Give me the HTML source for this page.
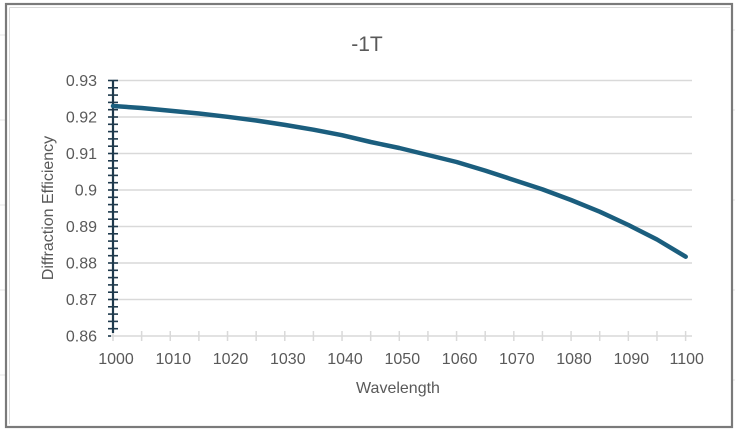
<!DOCTYPE html>
<html><head><meta charset="utf-8"><style>
html,body{margin:0;padding:0;background:#fff;}
svg{display:block;font-family:"Liberation Sans",sans-serif;}
</style></head><body>
<svg width="735" height="431" viewBox="0 0 735 431" xmlns="http://www.w3.org/2000/svg">
<rect width="735" height="431" fill="#fff"/>
<g stroke="#e4e4e4" stroke-width="1">
<line x1="0" y1="35" x2="5" y2="35"/><line x1="0" y1="120" x2="5" y2="120"/><line x1="0" y1="205" x2="5" y2="205"/><line x1="0" y1="290" x2="5" y2="290"/><line x1="0" y1="375" x2="5" y2="375"/>
<line x1="733" y1="30" x2="735" y2="30"/><line x1="733" y1="110" x2="735" y2="110"/><line x1="733" y1="200" x2="735" y2="200"/><line x1="733" y1="290" x2="735" y2="290"/><line x1="733" y1="380" x2="735" y2="380"/>
</g>
<rect x="6" y="4" width="726" height="423" fill="#fff" stroke="#7a7a7a" stroke-width="2.2"/>
<line x1="9.5" y1="7.5" x2="9.5" y2="424" stroke="#d9d9d9"/>
<line x1="9.5" y1="7.5" x2="730" y2="7.5" stroke="#d9d9d9"/>
<text x="367" y="51" text-anchor="middle" font-size="21" fill="#595959">-1T</text>
<g stroke="#d9d9d9" stroke-width="1.5">
<line x1="113" y1="80.5" x2="692" y2="80.5"/>
<line x1="113" y1="117" x2="692" y2="117"/>
<line x1="113" y1="153.5" x2="692" y2="153.5"/>
<line x1="113" y1="190" x2="692" y2="190"/>
<line x1="113" y1="226.5" x2="692" y2="226.5"/>
<line x1="113" y1="263" x2="692" y2="263"/>
<line x1="113" y1="299.5" x2="692" y2="299.5"/>
<line x1="108" y1="336" x2="692" y2="336"/>
</g>
<g stroke="#d9d9d9" stroke-width="1.5" id="xt"></g>
<g fill="#595959" font-size="16" text-anchor="end">
<text x="97" y="86">0.93</text><text x="97" y="122.5">0.92</text><text x="97" y="159">0.91</text><text x="97" y="195.5">0.9</text><text x="97" y="232">0.89</text><text x="97" y="268.5">0.88</text><text x="97" y="305">0.87</text><text x="97" y="341.5">0.86</text>
</g>
<g fill="#595959" font-size="16" text-anchor="middle">
<text x="116" y="364">1000</text><text x="173.3" y="364">1010</text><text x="230.5" y="364">1020</text><text x="287.8" y="364">1030</text><text x="345" y="364">1040</text><text x="402.3" y="364">1050</text><text x="459.6" y="364">1060</text><text x="516.8" y="364">1070</text><text x="574" y="364">1080</text><text x="631.4" y="364">1090</text><text x="686.7" y="364">1100</text>
</g>
<text x="398" y="393" text-anchor="middle" font-size="16" fill="#595959">Wavelength</text>
<text transform="translate(53,208) rotate(-90)" text-anchor="middle" font-size="16" fill="#595959">Diffraction Efficiency</text>
<g id="ticks"></g>
<polyline fill="none" stroke="#1b5e7e" stroke-width="4.5" stroke-linejoin="round" stroke-linecap="round"
points="113,106 141.6,108 170.3,110.7 198.9,113.5 227.5,116.8 256.2,120.5 284.8,124.9 313.4,129.7 342,135.2 370.7,142 399.3,148 428,155 456.6,162 485.2,170.6 513.8,180 542.5,189.4 571,200 599.7,211.7 628.4,225 657,239.5 685.7,256.7"/>
<script>
var ns="http://www.w3.org/2000/svg",g=document.getElementById("ticks"),xt=document.getElementById("xt");
function L(p,a,b,c,d,s,w){var l=document.createElementNS(ns,"line");l.setAttribute("x1",a);l.setAttribute("y1",b);l.setAttribute("x2",c);l.setAttribute("y2",d);l.setAttribute("stroke",s);l.setAttribute("stroke-width",w);p.appendChild(l);}
for(var i=0;i<=20;i++){var x=113+i*28.63;L(xt,x,331,x,341,"#d9d9d9",1.5);}
L(g,113,80,113,333,"#1f3a4d",2.2);
for(var i=0;i<=34;i++){var y=80.5+i*7.3;L(g,108,y,118,y,"#1f3a4d",1.6);}
L(g,108,336,111,336,"#1f3a4d",1.6);
</script>
</svg>
</body></html>
